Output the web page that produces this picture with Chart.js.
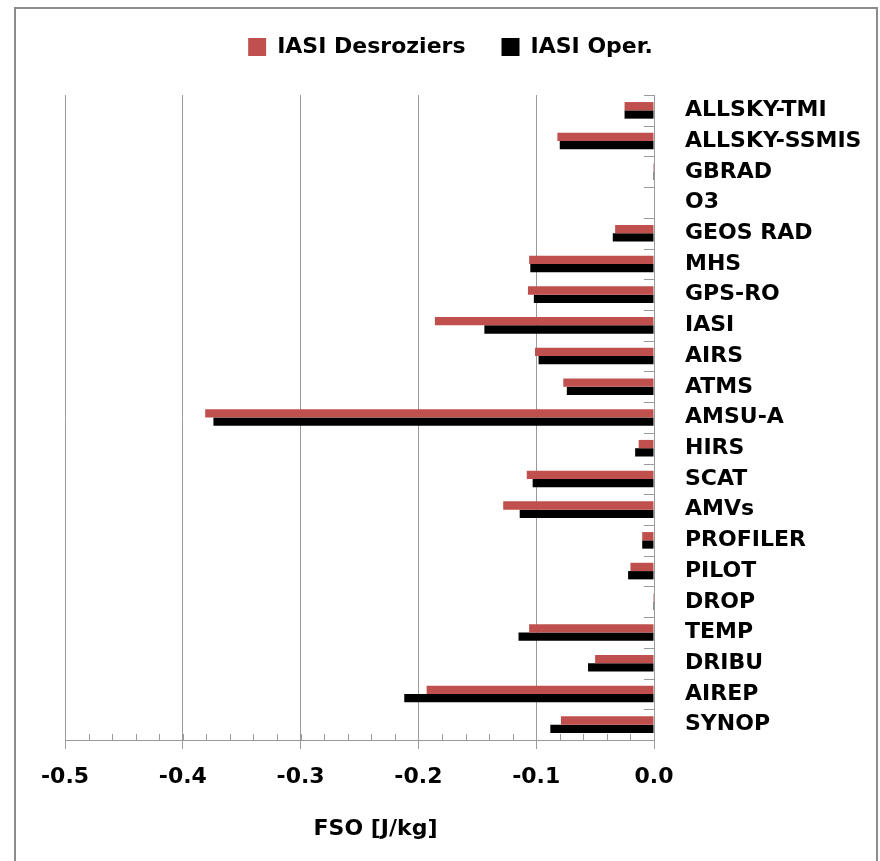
<!DOCTYPE html>
<html>
<head>
<meta charset="utf-8">
<script src="https://cdn.jsdelivr.net/npm/chart.js@4/dist/chart.umd.min.js"></script>
<style>
  html, body { margin: 0; padding: 0; background: #fff; }
  #wrap { position: absolute; left: 0; top: 0; width: 880px; height: 861px; }
</style>
</head>
<body>
<div id="wrap"><canvas id="c" width="880" height="861"></canvas></div>
<script>
const categories = ['ALLSKY-TMI','ALLSKY-SSMIS','GBRAD','O3','GEOS RAD','MHS','GPS-RO','IASI','AIRS','ATMS','AMSU-A','HIRS','SCAT','AMVs','PROFILER','PILOT','DROP','TEMP','DRIBU','AIREP','SYNOP'];
const desroziers = [-0.025,-0.082,-0.0008,0,-0.033,-0.106,-0.107,-0.186,-0.101,-0.077,-0.381,-0.013,-0.108,-0.128,-0.010,-0.020,-0.0008,-0.106,-0.050,-0.193,-0.079];
const oper = [-0.025,-0.080,-0.0008,0,-0.035,-0.105,-0.102,-0.144,-0.098,-0.074,-0.374,-0.016,-0.103,-0.114,-0.010,-0.022,-0.0008,-0.115,-0.056,-0.212,-0.088];
const seriesNames = ['IASI Desroziers', 'IASI Oper.'];
const xMin = -0.5, xMax = 0.0, xStep = 0.1, xMinorStep = 0.02;
const axisTitle = 'FSO [J/kg]';

const FONT = '"DejaVu Sans"';
const FS = 22;
const GRID = '#9a9a9a';
const LEGEND_EXTRA = 27;   // extra space under the legend
const LEGEND_SHIFT = -22;  // horizontal shift of the legend
const TITLE_SHIFT = 16;    // horizontal shift of the x axis title

const framePlugin = {
  id: 'frame',
  beforeUpdate(chart) {
    const lg = chart.legend;
    if (lg && !lg._patched) {
      const orig = lg.fit;
      lg.fit = function () { orig.call(this); if (this.isHorizontal()) this.height += LEGEND_EXTRA; };
      lg._patched = true;
    }
  },
  afterLayout(chart) {
    const lg = chart.legend;
    if (lg) { lg.left += LEGEND_SHIFT; lg.right += LEGEND_SHIFT; }
    const xs = chart.scales.x;
    if (xs && !xs._patched) {
      const origTitle = xs.drawTitle;
      xs.drawTitle = function () {
        this.left += TITLE_SHIFT; this.right += TITLE_SHIFT;
        origTitle.call(this);
        this.left -= TITLE_SHIFT; this.right -= TITLE_SHIFT;
      };
      xs._patched = true;
    }
  },
  beforeDraw(chart) {
    const ctx = chart.ctx;
    ctx.save();
    ctx.fillStyle = '#fff';
    ctx.fillRect(0, 0, chart.width, chart.height);
    ctx.strokeStyle = '#8c8c8c';
    ctx.lineWidth = 2;
    ctx.strokeRect(15, 8, 862, 900);
    ctx.restore();
  },
  afterDatasetsDraw(chart) {
    const ctx = chart.ctx;
    const xs = chart.scales.x, ys = chart.scales.y;
    const area = chart.chartArea;
    ctx.save();
    ctx.strokeStyle = GRID;
    ctx.lineWidth = 1;
    ctx.beginPath();
    const n = Math.round((xMax - xMin) / xMinorStep);
    for (let k = 0; k <= n; k++) {
      const v = xMin + k * xMinorStep;
      const px = Math.round(xs.getPixelForValue(v)) + 0.5;
      ctx.moveTo(px, area.bottom);
      ctx.lineTo(px, area.bottom - 6);
    }
    for (let k = 0; k <= categories.length; k++) {
      const py = Math.round(ys.getPixelForValue(k - 0.5)) + 0.5;
      ctx.moveTo(area.right, py);
      ctx.lineTo(area.right - 10, py);
    }
    ctx.stroke();
    ctx.restore();
  }
};

new Chart(document.getElementById('c'), {
  type: 'bar',
  data: {
    labels: categories,
    datasets: [
      { label: seriesNames[0], data: desroziers, backgroundColor: '#C0504D', borderWidth: 0 },
      { label: seriesNames[1], data: oper, backgroundColor: '#000000', borderWidth: 0 }
    ]
  },
  options: {
    indexAxis: 'y',
    responsive: false,
    animation: false,
    events: [],
    categoryPercentage: 0.54,
    barPercentage: 1.0,
    layout: { padding: { left: 65, right: 0, top: 0, bottom: 0 } },
    plugins: {
      tooltip: { enabled: false },
      legend: {
        position: 'top',
        labels: {
          boxWidth: 18, boxHeight: 18, padding: 36,
          color: '#000',
          font: { family: FONT, size: FS, weight: 'bold' }
        }
      }
    },
    scales: {
      x: {
        type: 'linear',
        position: 'bottom',
        min: xMin, max: xMax,
        afterFit(scale) { scale.height = 121; },
        grid: { color: GRID, lineWidth: 1, drawTicks: true, tickLength: 9, tickColor: GRID },
        border: { display: true, color: GRID, width: 1 },
        ticks: {
          stepSize: xStep,
          padding: 15,
          color: '#000',
          font: { family: FONT, size: FS, weight: 'bold' },
          callback: (v) => (Math.abs(v) < 1e-9 ? 0 : v).toFixed(1)
        },
        title: {
          display: true,
          text: axisTitle,
          color: '#000',
          font: { family: FONT, size: FS, weight: 'bold' },
          padding: { top: 0, bottom: 19 }
        }
      },
      y: {
        type: 'category',
        position: 'right',
        offset: true,
        afterFit(scale) { scale.width = 880 - 654; },
        grid: { display: false, drawTicks: false, tickLength: 0 },
        border: { display: true, color: GRID, width: 1 },
        ticks: {
          padding: 31,
          color: '#000',
          font: { family: FONT, size: FS, weight: 'bold' }
        }
      }
    }
  },
  plugins: [framePlugin]
});
</script>
</body>
</html>
